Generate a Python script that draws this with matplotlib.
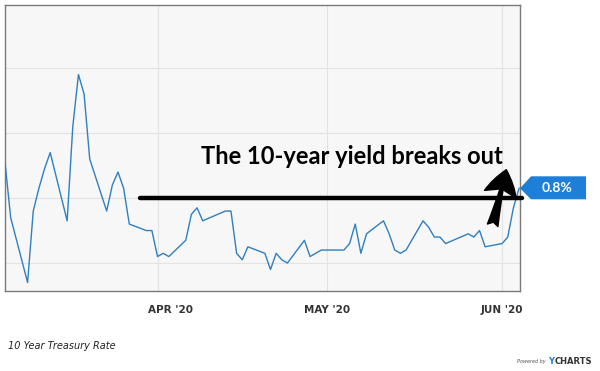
import matplotlib
matplotlib.use("Agg")
import matplotlib.pyplot as plt
import matplotlib.dates as mdates
import matplotlib.transforms as mtransforms
from matplotlib.patches import Polygon, FancyArrowPatch
import pandas as pd

#===Data (10 Year Treasury Rate, %)===#
DATES = [
    "2020-03-05", "2020-03-06", "2020-03-09", "2020-03-10", "2020-03-11", "2020-03-12", "2020-03-13",
    "2020-03-16", "2020-03-17", "2020-03-18", "2020-03-19", "2020-03-20",
    "2020-03-23", "2020-03-24", "2020-03-25", "2020-03-26", "2020-03-27",
    "2020-03-30", "2020-03-31", "2020-04-01", "2020-04-02", "2020-04-03",
    "2020-04-06", "2020-04-07", "2020-04-08", "2020-04-09",
    "2020-04-13", "2020-04-14", "2020-04-15", "2020-04-16", "2020-04-17",
    "2020-04-20", "2020-04-21", "2020-04-22", "2020-04-23", "2020-04-24",
    "2020-04-27", "2020-04-28", "2020-04-29", "2020-04-30", "2020-05-01",
    "2020-05-04", "2020-05-05", "2020-05-06", "2020-05-07", "2020-05-08",
    "2020-05-11", "2020-05-12", "2020-05-13", "2020-05-14", "2020-05-15",
    "2020-05-18", "2020-05-19", "2020-05-20", "2020-05-21", "2020-05-22",
    "2020-05-26", "2020-05-27", "2020-05-28", "2020-05-29",
    "2020-06-01", "2020-06-02", "2020-06-03", "2020-06-04",
]
RATES = [
    0.91, 0.74, 0.54, 0.76, 0.83, 0.89, 0.94,
    0.73, 1.02, 1.18, 1.12, 0.92,
    0.76, 0.84, 0.88, 0.83, 0.72,
    0.70, 0.70, 0.62, 0.63, 0.62,
    0.67, 0.75, 0.77, 0.73,
    0.76, 0.76, 0.63, 0.61, 0.65,
    0.63, 0.58, 0.63, 0.61, 0.60,
    0.67, 0.62, 0.63, 0.64, 0.64,
    0.64, 0.66, 0.72, 0.63, 0.69,
    0.73, 0.69, 0.64, 0.63, 0.64,
    0.73, 0.71, 0.68, 0.68, 0.66,
    0.69, 0.68, 0.70, 0.65,
    0.66, 0.68, 0.77, 0.83,
]
Y_GRID = [0.6, 0.8, 1.0, 1.2]
MONTH_TICKS = ["2020-04-01", "2020-05-01", "2020-06-01"]
MONTH_LABELS = ["APR '20", "MAY '20", "JUN '20"]
BREAKOUT_LEVEL = 0.8
ANNOTATION = "The 10-year yield breaks out"
SERIES_NAME = "10 Year Treasury Rate"

W, H = 600, 371
LINE_BLUE = "#2f7fc1"
TAG_BLUE = "#1d7fd8"

dates = pd.to_datetime(DATES)
ticks = pd.to_datetime(MONTH_TICKS)

fig = plt.figure(figsize=(W / 100, H / 100), dpi=100)
fig.patch.set_facecolor("white")
ax = fig.add_axes([5 / W, 80 / H, 515 / W, 286 / H])
ax.set_facecolor("#f7f7f7")

ax.plot(dates, RATES, color=LINE_BLUE, lw=1.0, zorder=3)

ax.set_xlim(pd.Timestamp("2020-03-05 00:00"), pd.Timestamp("2020-06-04 04:00"))
ax.set_ylim(0.514, 1.394)

ax.set_yticks(Y_GRID)
ax.set_yticklabels([])
ax.set_xticks(ticks)
ax.set_xticklabels(MONTH_LABELS)
ax.tick_params(axis="both", length=0)
ax.tick_params(axis="x", pad=10, labelsize=7.5, labelcolor="#333333")
for lab in ax.get_xticklabels():
    lab.set_fontweight("bold")
    lab.set_fontfamily(["Liberation Sans Narrow", "DejaVu Sans"])
# first label sits a bit right of its gridline in the original
offset = mtransforms.ScaledTranslation(13 / 100, 0, fig.dpi_scale_trans)
ax.get_xticklabels()[0].set_transform(ax.get_xticklabels()[0].get_transform() + offset)

ax.grid(True, color="#e3e3e3", lw=0.8, zorder=0)
for s in ax.spines.values():
    s.set_color("#7a7a7a")
    s.set_linewidth(1.0)

# horizontal breakout line
blend = mtransforms.blended_transform_factory(ax.transAxes, ax.transData)
ax.plot([0.262, 1.004], [BREAKOUT_LEVEL, BREAKOUT_LEVEL], color="black", lw=3.2,
        solid_capstyle="round", transform=blend, clip_on=False, zorder=5)

# annotation text
fig.text(352 / W, 1 - 156 / H, ANNOTATION, ha="center", va="center",
         fontsize=17, fontweight="bold", family=["Lato", "DejaVu Sans"], color="black")

# arrow
arrow = FancyArrowPatch((492, H - 228), (507, H - 167), transform=None,
                        arrowstyle="fancy,head_length=1.4,head_width=1.8,tail_width=0.6",
                        mutation_scale=13, color="black", zorder=6)
fig.patches.append(arrow)

# last value tag
tip = ax.transData.transform((mdates.date2num(dates[-1]), RATES[-1]))
tx, ty = tip[0] + 1, tip[1]
tag = Polygon([(tx, ty), (tx + 11, ty + 12), (tx + 66, ty + 12), (tx + 66, ty - 11),
               (tx + 11, ty - 11)], closed=True, transform=None, facecolor=TAG_BLUE,
              edgecolor="none", zorder=7)
fig.patches.append(tag)
fig.text((tx + 37) / W, ty / H, f"{RATES[-1]:.1f}%", ha="center", va="center",
         color="white", fontsize=10, fontweight="bold", family=["Lato", "DejaVu Sans"],
         zorder=9)

# footer
fig.text(8 / W, 1 - 346 / H, SERIES_NAME, ha="left", va="center", fontsize=7,
         fontstyle="italic", color="#222222", family=["Liberation Sans Narrow", "DejaVu Sans"])
fig.text(546 / W, 1 - 362 / H, "Powered by", ha="right", va="center", fontsize=3.5,
         fontstyle="italic", color="#555555")
fig.text(548 / W, 1 - 362 / H, "Y", ha="left", va="center", fontsize=6,
         fontweight="bold", color=TAG_BLUE)
fig.text(555 / W, 1 - 362 / H, "CHARTS", ha="left", va="center", fontsize=6,
         fontweight="bold", color="#333333")

fig.savefig("out.png", dpi=100)
